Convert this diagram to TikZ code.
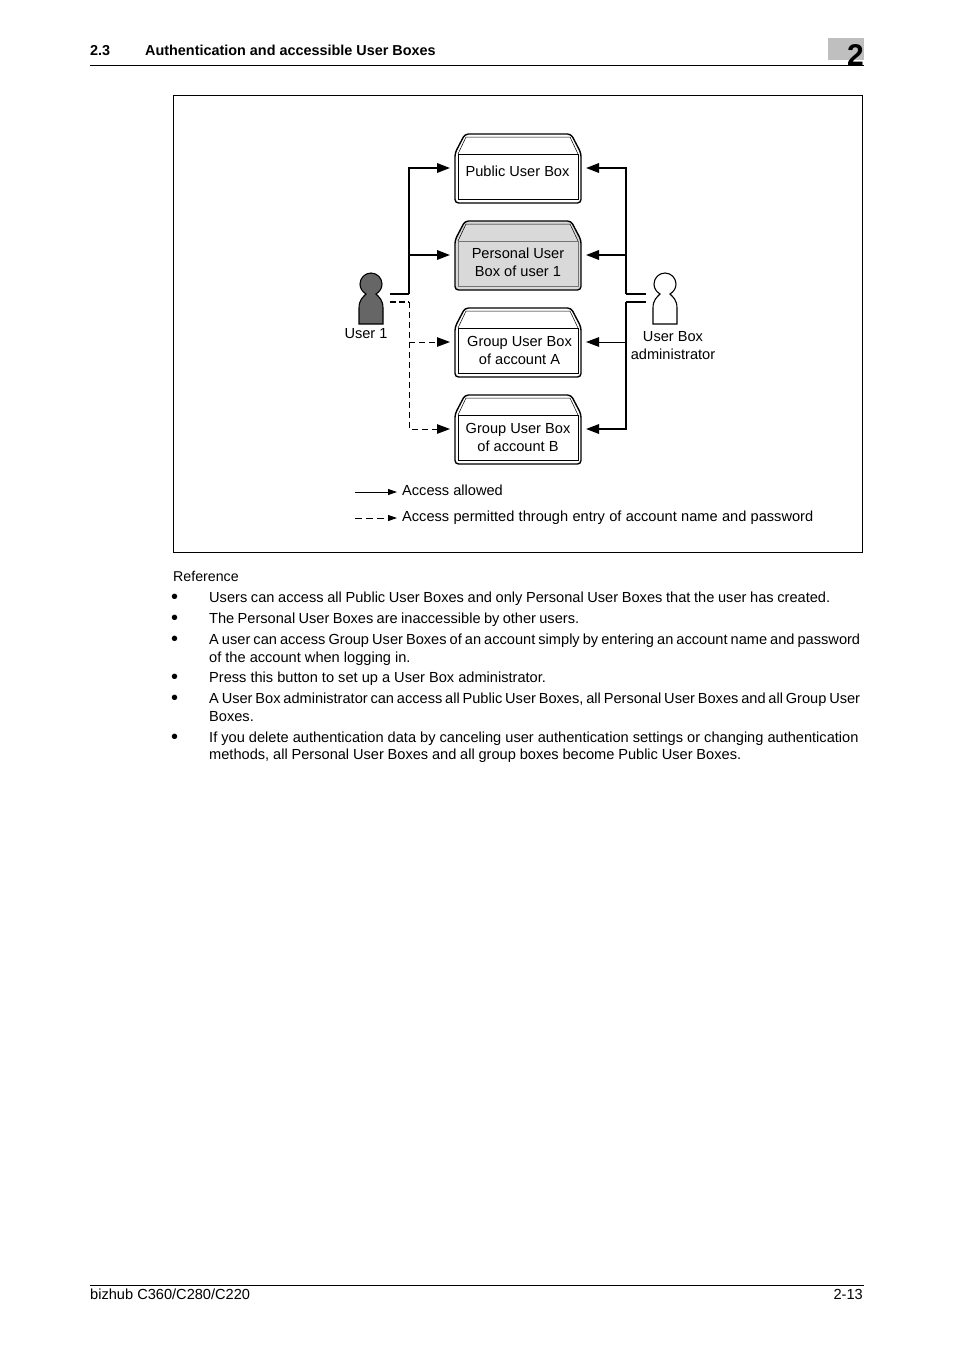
\documentclass[tikz,border=0pt]{standalone}
\usepackage{fontspec}
\setmainfont{Liberation Sans}
\usetikzlibrary{arrows.meta,positioning}
\definecolor{cLine}{HTML}{000000}
\definecolor{cPriv}{HTML}{D9D9D9}
\definecolor{cUser}{HTML}{666666}
\definecolor{cTab} {HTML}{BFBFBF}
\newcommand{\txtfont}{\fontsize{14.6}{18}\selectfont}
% a line set to the width it has on the page
\newcommand{\fitline}[2]{\hbox to #1pt{\spaceskip=0.22em plus 1fil minus 1fil #2}}
\tikzset{
  boxin/.style  ={draw=cLine,line width=0.9pt,minimum width=120pt,minimum height=45pt,
                  inner sep=0pt,anchor=north west,fill=white},
  boxlbl/.style ={font=\txtfont,align=center,inner sep=0pt},
  plain/.style  ={font=\txtfont,anchor=base west,inner sep=0pt},
  hdr/.style    ={plain,font=\fontsize{14.4}{18}\selectfont\bfseries},
  dotmark/.style={plain,font=\fontsize{20}{20}\selectfont},
  rule/.style   ={draw=cLine,line width=0.7pt},
  acc/.style    ={-{Triangle[length=13pt,width=9.5pt]},draw=cLine,line width=1.7pt,shorten >=8pt},
  accd/.style   ={acc,line width=1pt,dash pattern=on 6pt off 4pt},
  adm/.style    ={acc,line width=1pt},
  seg/.style    ={draw=cLine,line width=1.7pt},
  segd/.style   ={draw=cLine,line width=1.7pt,dash pattern=on 6pt off 3pt},
  leg/.style    ={-{Triangle[length=9pt,width=6pt]},draw=cLine,line width=0.8pt},
}
% lid and frame round an inner box, top edge of the frame at #2
\newcommand{\userbox}[4]{%
  \draw[draw=cLine,line width=1.4pt,rounded corners=3.5pt,fill=#3]
    (455,#2+69) -- (455,#2+19) -- (465,#2) -- (571,#2) -- (581,#2+19) -- (581,#2+69) -- cycle;
  \draw[draw=cLine,line width=0.5pt] (458,#2+20) -- (466,#2+3) -- (570,#2+3) -- (578,#2+20);
  \node[boxin,fill=#3,draw=#4] (#1) at (458,#2+20) {};
  \coordinate (#1w) at (458,#2+34);
  \coordinate (#1e) at (578,#2+34);
}
% figure with its head centred at (#1,284)
\newcommand{\person}[2]{%
  \begin{scope}[shift={(#1,284)}]
  \draw[draw=cLine,line width=1.1pt,fill=#2] (-12,40) -- (-12,24)
    .. controls (-12,16) and (-8,13) .. (-5,10)
    .. controls (-9,7.5) and (-11,4) .. (-11,0)
    .. controls (-11,-6) and (-6,-11) .. (0,-11)
    .. controls (6,-11) and (11,-6) .. (11,0)
    .. controls (11,4) and (9,7.5) .. (5,10)
    .. controls (8,13) and (12,16) .. (12,24) -- (12,40) -- cycle;
  \end{scope}
}
\begin{document}
\begin{tikzpicture}[x=1pt,y=-1pt]
\useasboundingbox (0,0) rectangle (954,1350);

% --- page head -------------------------------------------------------------
\node[hdr] (secno) at (90,55) {2.3};
\node[hdr] (sectitle) at (145,55) {Authentication and accessible User Boxes};
\fill[cTab] (828,38) rectangle (864,60);
\node[font=\fontsize{30}{30}\selectfont\bfseries,anchor=base east,inner sep=0pt] (chapno) at (864,65) {2};
\draw[rule] (90,65.5) -- (864,65.5);

\draw[draw=cLine,line width=0.7pt] (173,95) rectangle (862,552);

% --- the four boxes --------------------------------------------------------
\userbox{pub}{134}{white}{cLine}
\userbox{per}{221}{cPriv}{black!55}
\userbox{gra}{308}{white}{cLine}
\userbox{grb}{395}{white}{cLine}
\node[boxlbl] (publbl) at (517.5,171) {Public User Box};
\node[boxlbl] (perlbl) at (518,262) {Personal User\\Box of user 1};
\node[boxlbl] (gralbl) at (519.5,350) {Group User Box\\of account A};
\node[boxlbl] (grblbl) at (518,437) {Group User Box\\of account B};

% --- people ----------------------------------------------------------------
\person{371}{cUser}
\person{665}{white}
\node[boxlbl] (uonelbl) at (366,334) {User 1};
\node[boxlbl] (admlbl) at (673,346) {User Box\\administrator};

% --- user side, free ends next to the figure --------------------------------
\coordinate (uon) at (390,294);
\coordinate (uoff) at (390,302);
\coordinate (ujoin) at (409,294);
\coordinate (djoin) at (409,302);
\draw[seg] (uon) -- (ujoin);
\draw[acc] (ujoin) |- (pubw);
\draw[acc] (ujoin |- perw) -- (perw);
\draw[segd] (uoff) -- (djoin);
\draw[accd] (djoin) |- (grbw);
\draw[accd] (djoin |- graw) -- (graw);

% --- administrator side -----------------------------------------------------
\coordinate (aon) at (646,294);
\coordinate (aoff) at (646,302);
\coordinate (ajoin) at (626,294);
\coordinate (bjoin) at (626,302);
\draw[seg] (aon) -- (ajoin);
\draw[acc] (ajoin) |- (pube);
\draw[acc] (ajoin |- pere) -- (pere);
\draw[seg] (aoff) -- (bjoin);
\draw[acc] (bjoin) |- (grbe);
\draw[adm] (bjoin |- grae) -- (grae);

% --- legend ----------------------------------------------------------------
\coordinate (legas) at (355,492);
\coordinate (legae) at (397,492);
\coordinate (legbs) at (355,518);
\coordinate (legbe) at (397,518);
\draw[leg] (legas) -- (legae);
\draw[leg,dash pattern=on 7pt off 4pt] (legbs) -- (legbe);
\node[plain] (legatxt) at (402,495) {Access allowed};
\node[plain] (legbtxt) at (402,521) {\fitline{411}{Access permitted through entry of account name and password}};

% --- reference list --------------------------------------------------------
\node[plain,font=\fontsize{14.2}{18}\selectfont] (refhead) at (173,581) {Reference};
\foreach \bx/\yb in {b1/603.5,b2/624.5,b3/645.5,b4/683.5,b5/704.5,b6/743.5}
  \node[dotmark] (\bx) at (171,\yb) {\textbullet};
\node[plain] (l1) at (209,602) {\fitline{621}{Users can access all Public User Boxes and only Personal User Boxes that the user has created.}};
\node[plain] (l2) at (209,623) {\fitline{370}{The Personal User Boxes are inaccessible by other users.}};
\node[plain] (l3) at (209,644) {\fitline{651}{A user can access Group User Boxes of an account simply by entering an account name and password}};
\node[plain] (l4) at (209,662) {of the account when logging in.};
\node[plain] (l5) at (209,682) {Press this button to set up a User Box administrator.};
\node[plain] (l6) at (209,703) {\fitline{651}{A User Box administrator can access all Public User Boxes, all Personal User Boxes and all Group User}};
\node[plain] (l7) at (209,721) {Boxes.};
\node[plain] (l8) at (209,742) {If you delete authentication data by canceling user authentication settings or changing authentication};
\node[plain] (l9) at (209,759) {\fitline{532}{methods, all Personal User Boxes and all group boxes become Public User Boxes.}};

% --- page foot -------------------------------------------------------------
\draw[rule] (90,1285) -- (864,1285);
\node[plain] (model) at (90,1299) {bizhub C360/C280/C220};
\node[plain,anchor=base east] (pageno) at (863,1299) {2-13};
\end{tikzpicture}
\end{document}
